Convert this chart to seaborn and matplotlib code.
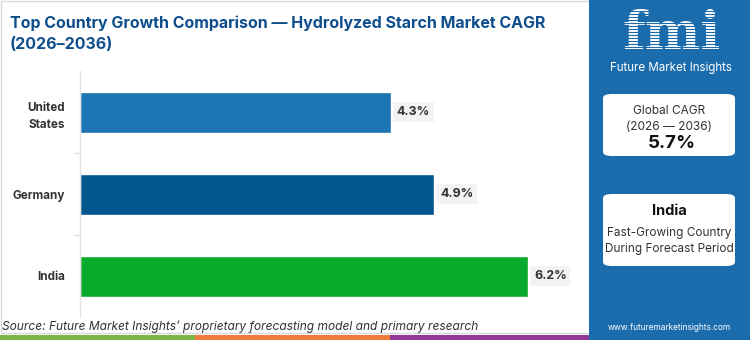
import matplotlib
matplotlib.use("Agg")
import matplotlib.pyplot as plt
from matplotlib.patches import FancyBboxPatch, Rectangle
import pandas as pd
import seaborn as sns

countries = ["United\nStates", "Germany", "India"]
cagr = [4.3, 4.9, 6.2]
bar_colors = ["#1c75b3", "#04568f", "#0aab2c"]
title_text = "Top Country Growth Comparison \u2014 Hydrolyzed Starch Market CAGR\n(2026\u20132036)"
source_text = "Source: Future Market Insights\u2019 proprietary forecasting model and primary research"
global_cagr = "5.7%"
global_label = "Global CAGR\n(2026 \u2014 2036)"
lead_country = "India"
lead_note = "Fast-Growing Country\nDuring Forecast Period"
site = "www.futuremarketinsights.com"

sns.set_theme(style="white")
plt.rcParams["font.family"] = ["Inter", "DejaVu Sans"]

W, H = 750, 340
fig = plt.figure(figsize=(7.5, 3.4), dpi=100)
fig.patch.set_facecolor("white")

def fx(px):
    return px / W

def fy(py):
    return 1 - py / H

# white chart panel border
fig.patches.append(Rectangle((fx(0.5), fy(333)), fx(589), 332.5 / H, transform=fig.transFigure,
                             facecolor="none", edgecolor="#d9d9d9", linewidth=1.0, zorder=0))

# bottom colour stripe
for x0, x1, c in [(0, 195, "#7ab648"), (195, 390, "#ef7b3c"), (390, 589, "#8e3a96")]:
    fig.patches.append(Rectangle((fx(x0), 0), fx(x1 - x0), 5 / H, transform=fig.transFigure,
                                 facecolor=c, edgecolor="none", zorder=1))

# right brand panel
fig.patches.append(Rectangle((fx(589), 0), fx(W - 589), 1, transform=fig.transFigure,
                             facecolor="#1b6cad", edgecolor="none", zorder=1))

# main bar chart
ax = fig.add_axes([fx(80), fy(317), fx(506), (317 - 71) / H])
ax.set_zorder(3)
ax.patch.set_alpha(0)
df = pd.DataFrame({"country": countries, "cagr": cagr})
sns.barplot(data=df, x="cagr", y="country", hue="country", palette=bar_colors,
            width=0.5, legend=False, ax=ax, saturation=1)
ax.set_xlim(0, 7.0)
ax.set_ylim(2.5, -0.5)
ax.set_xlabel("")
ax.set_ylabel("")
ax.set_xticks([])
for s in ["top", "right", "bottom"]:
    ax.spines[s].set_visible(False)
ax.spines["left"].set_color("#e3e3e3")
ax.spines["left"].set_linewidth(1.0)
ax.tick_params(axis="y", length=0, pad=11)
ax.set_yticks([0.5, 1.5], minor=True)
ax.tick_params(axis="y", which="minor", length=4, color="#e0e0e0", width=1, left=True)
for lab in ax.get_yticklabels():
    lab.set_fontweight("bold")
    lab.set_fontsize(8.4)
    lab.set_color("#333333")
    lab.set_multialignment("right")
    lab.set_linespacing(1.6)

for i, v in enumerate(cagr):
    ax.text(v + 0.08, i, f"{v:.1f}%", va="center", ha="left", fontsize=9, fontweight="bold",
            color="#333333",
            bbox=dict(boxstyle="square,pad=0.3", facecolor="#f3f3f3", edgecolor="none"))

# title and source
fig.text(fx(10), fy(34), title_text, ha="left", va="center", fontsize=11.5, fontweight="bold",
         color="#0e4e8c", linespacing=1.5)
fig.text(fx(2), fy(327), source_text, ha="left", va="center", fontsize=8.6, style="italic",
         color="#333333")

# brand logo
fig.text(fx(672), fy(49), "fmi", ha="center", va="baseline", fontsize=38, fontweight="bold",
         color="white", family=["DejaVu Serif"])
for yy in range(11, 50, 3):
    fig.lines.append(plt.Line2D([fx(612), fx(735)], [fy(yy), fy(yy)], transform=fig.transFigure,
                                color="#1b6cad", linewidth=0.8, zorder=5))
fig.text(fx(671), fy(68), "Future Market Insights", ha="center", va="center", fontsize=8.3,
         color="white")

# info boxes
for (y0, y1) in [(94, 156), (194, 266)]:
    fig.patches.append(FancyBboxPatch((fx(603), fy(y1)), fx(132), (y1 - y0) / H,
                                      boxstyle="round,pad=0,rounding_size=0.012",
                                      transform=fig.transFigure, facecolor="white",
                                      edgecolor="none", zorder=2))
fig.text(fx(669), fy(119), global_label, ha="center", va="center", fontsize=8.5,
         color="#333333", linespacing=1.35)
fig.text(fx(672), fy(143), global_cagr, ha="center", va="center", fontsize=13.5,
         fontweight="bold", color="#111111")
fig.text(fx(669), fy(211), lead_country, ha="center", va="center", fontsize=10.5,
         fontweight="bold", color="#111111")
fig.text(fx(669), fy(241), lead_note, ha="center", va="center", fontsize=8.5,
         color="#333333", linespacing=1.45)
fig.text(fx(669), fy(327), site, ha="center", va="center", fontsize=6, color="white")

fig.savefig("out.png", dpi=100, facecolor="white")
